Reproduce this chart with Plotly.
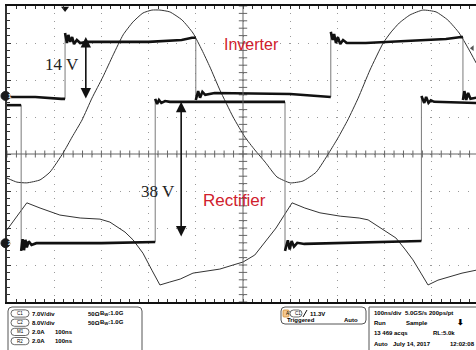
import plotly.graph_objects as go

# ---------------------------------------------------------------
# Waveform data: time in ns (100 ns/div), amplitude in screen divisions
# ---------------------------------------------------------------

# C1 - inverter output voltage (thick trace); repeated times are switching edges
INVERTER_V = [
    (0, 1.54), (60, 1.54), (115, 1.49), (123, 1.49),
    (123, 3.27), (127, 3.00), (130, 3.22), (134, 3.03), (138, 3.16), (142, 2.97),
    (148, 3.08), (155, 3.00), (170, 3.03), (300, 3.03), (370, 3.08), (392, 3.14), (400, 3.14),
    (400, 1.46), (405, 1.70), (409, 1.52), (414, 1.68), (420, 1.60), (440, 1.65),
    (600, 1.62), (650, 1.57), (686, 1.54),
    (686, 3.30), (690, 3.08), (693, 3.24), (697, 3.00), (701, 3.16), (706, 2.97),
    (712, 3.08), (720, 3.00), (760, 3.00), (850, 3.05), (930, 3.11), (962, 3.16), (966, 3.16),
    (966, 1.46), (969, 1.70), (973, 1.46), (977, 1.65), (982, 1.49), (994, 1.52),
]

# C2 - rectifier input voltage (thick trace)
RECTIFIER_V = [
    (0, 1.32), (30, 1.32),
    (30, -2.62), (33, -2.30), (36, -2.60), (39, -2.32), (42, -2.52), (46, -2.36),
    (52, -2.46), (62, -2.41), (200, -2.41), (314, -2.38),
    (314, 1.49), (318, 1.35), (322, 1.46), (327, 1.38), (335, 1.43), (345, 1.41), (589, 1.41),
    (589, -2.62), (595, -2.33), (599, -2.58), (603, -2.35), (608, -2.50), (615, -2.40),
    (630, -2.43), (876, -2.35), (878, -2.35),
    (878, 1.57), (884, 1.38), (888, 1.54), (893, 1.38), (898, 1.45), (905, 1.41), (994, 1.38),
]

# M1 - inverter current (thin trace)
INVERTER_I_T = [0, 21, 42, 70, 91, 119, 138, 159, 180, 203, 225, 246, 267, 288, 307, 324,
                345, 371, 394, 413, 430, 451, 479, 504, 525, 547, 572, 600, 627, 655, 682,
                701, 722, 744, 769, 797, 814, 831, 854, 881, 909, 934, 958, 977, 994]
INVERTER_I_Y = [-0.65, -0.76, -0.78, -0.70, -0.49, 0.03, 0.46, 0.92, 1.51, 2.08, 2.68, 3.22,
                3.57, 3.81, 3.89, 3.89, 3.84, 3.62, 3.27, 2.81, 2.35, 1.73, 1.00, 0.46, 0.11,
                -0.22, -0.62, -0.78, -0.73, -0.49, 0.03, 0.43, 0.92, 1.51, 2.27, 3.00, 3.30,
                3.54, 3.76, 3.89, 3.84, 3.62, 3.27, 2.86, 2.46]

# R2 - rectifier current (thin trace)
RECTIFIER_I_T = [0, 21, 42, 70, 112, 155, 197, 218, 233, 250, 267, 288, 307, 324, 345, 367,
                 394, 424, 451, 479, 500, 525, 551, 570, 585, 604, 631, 663, 706, 746, 765,
                 782, 803, 824, 843, 860, 877, 892, 913, 936, 964, 994]
RECTIFIER_I_Y = [-2.05, -1.70, -1.32, -1.46, -1.65, -1.73, -1.76, -1.84, -1.97, -2.11, -2.32,
                 -2.68, -3.14, -3.54, -3.46, -3.38, -3.22, -3.16, -3.11, -3.00, -2.92, -2.73,
                 -2.32, -2.00, -1.70, -1.32, -1.46, -1.59, -1.68, -1.73, -1.78, -1.92, -2.08,
                 -2.27, -2.57, -2.86, -3.22, -3.54, -3.41, -3.32, -3.22, -3.14]

# channel ground markers and trigger
CHANNEL_NAMES = ["1", "2"]
CHANNEL_OFFSETS = [1.57, -2.41]
TRIGGER_TIME = 123
TRIGGER_LEVEL = 2.86

# step annotations: (label, time of arrow, top level, bottom level)
INV_STEP = ("14 V", 167, 3.16, 1.46)
REC_STEP = ("38 V", 369, 1.41, -2.27)

# ---------------------------------------------------------------
# Screen geometry (pixels)
# ---------------------------------------------------------------
W, H = 476, 350
X0_PX, DIV_X_PX = 7, 47.2
TOP_PX, BOT_PX = 6, 302
T_END = (W - X0_PX) / DIV_X_PX * 100

TRACE_BLACK = "#111111"
THIN = "#333333"
EDGE = "#7a7a7a"
GRID = "#9a9a9a"
RED = "#d0202c"


def px(x, y):
    """pixel position -> paper coordinates"""
    return x / W, 1 - y / H


def split_edges(points):
    """Flat/ringing parts go to the thick trace, vertical switching edges to a thin one."""
    tx, ty, ex, ey = [], [], [], []
    for i, (t, v) in enumerate(points):
        if i > 0 and t == points[i - 1][0]:
            tx.append(None)
            ty.append(None)
            ex += [t, t, None]
            ey += [points[i - 1][1], v, None]
        tx.append(t)
        ty.append(v)
    return tx, ty, ex, ey


fig = go.Figure()

# centre graticule tick marks
cx = [t for t in range(0, 1000, 20)]
fig.add_trace(go.Scatter(x=cx, y=[0] * len(cx), mode="markers", hoverinfo="skip",
                         marker=dict(symbol="line-ns", size=5, line=dict(width=1, color="#666"))))
cy = [round(-4 + 0.2 * k, 2) for k in range(41)]
fig.add_trace(go.Scatter(x=[500] * len(cy), y=cy, mode="markers", hoverinfo="skip",
                         marker=dict(symbol="line-ew", size=6, line=dict(width=1, color="#666"))))

# currents
fig.add_trace(go.Scatter(x=INVERTER_I_T, y=INVERTER_I_Y, mode="lines",
                         line=dict(color=THIN, width=1, shape="spline", smoothing=0.5)))
fig.add_trace(go.Scatter(x=RECTIFIER_I_T, y=RECTIFIER_I_Y, mode="lines",
                         line=dict(color=THIN, width=1)))

# voltages
for pts in (INVERTER_V, RECTIFIER_V):
    tx, ty, ex, ey = split_edges(pts)
    fig.add_trace(go.Scatter(x=ex, y=ey, mode="lines", line=dict(color=EDGE, width=1)))
    fig.add_trace(go.Scatter(x=tx, y=ty, mode="lines", line=dict(color=TRACE_BLACK, width=2.6)))

# trigger position and level markers
fig.add_trace(go.Scatter(x=[TRIGGER_TIME], y=[3.93], mode="markers",
                         marker=dict(symbol="triangle-down", size=7, color="#111"),
                         cliponaxis=False))
fig.add_trace(go.Scatter(x=[986], y=[TRIGGER_LEVEL], mode="markers",
                         marker=dict(symbol="triangle-left", size=5, color="#555"),
                         cliponaxis=False))

# centre cross lines
shapes = [
    dict(type="line", xref="x", yref="y", x0=500, x1=500, y0=-4, y1=4,
         line=dict(color="#666", width=1)),
    dict(type="line", xref="x", yref="y", x0=0, x1=T_END, y0=0, y1=0,
         line=dict(color="#666", width=1)),
]

annotations = []

# channel ground markers just left of the graticule
for name, off in zip(CHANNEL_NAMES, CHANNEL_OFFSETS):
    shapes.append(dict(type="circle", xref="paper", yref="y", x0=1 / W, x1=10 / W,
                       y0=off - 0.12, y1=off + 0.12, fillcolor="#1a1a1a",
                       line=dict(color="#1a1a1a", width=1)))
    annotations.append(dict(x=5.5 / W, y=off, xref="paper", yref="y", text=f"<b>{name}</b>",
                            showarrow=False, font=dict(family="Liberation Sans", size=6, color="white")))

# step arrows and labels
for label, t, top, bot in (INV_STEP, REC_STEP):
    annotations.append(dict(x=t, y=top, ax=t, ay=bot, xref="x", yref="y", axref="x", ayref="y",
                            text="", showarrow=True, arrowhead=2, arrowside="end+start",
                            arrowsize=1.3, arrowwidth=1.6, arrowcolor="#111"))
annotations += [
    dict(x=116, y=2.41, text=INV_STEP[0], showarrow=False, xref="x", yref="y",
         font=dict(family="Liberation Serif", size=17, color="#222")),
    dict(x=319, y=-1.01, text=REC_STEP[0], showarrow=False, xref="x", yref="y",
         font=dict(family="Liberation Serif", size=17, color="#222")),
    dict(x=518, y=2.95, text="Inverter", showarrow=False, xref="x", yref="y",
         font=dict(family="Liberation Sans", size=16, color=RED)),
    dict(x=483, y=-1.27, text="Rectifier", showarrow=False, xref="x", yref="y",
         font=dict(family="Liberation Sans", size=17, color=RED)),
]


# ---------------- status panel below the graticule ----------------
def rrect(x0, y0, x1, y1, r, color="#555", width=1, fill=None):
    a0, b0 = px(x0, y0)
    a1, b1 = px(x1, y1)
    rx, ry = r / W, r / H
    path = (f"M{a0 + rx},{b0} L{a1 - rx},{b0} Q{a1},{b0} {a1},{b0 - ry} "
            f"L{a1},{b1 + ry} Q{a1},{b1} {a1 - rx},{b1} L{a0 + rx},{b1} "
            f"Q{a0},{b1} {a0},{b1 + ry} L{a0},{b0 - ry} Q{a0},{b0} {a0 + rx},{b0} Z")
    d = dict(type="path", xref="paper", yref="paper", path=path, line=dict(color=color, width=width))
    if fill:
        d["fillcolor"] = fill
    return d


def txt(x, y, s, size=6, color="#000", bold=True):
    a, b = px(x, y)
    return dict(x=a, y=b, xref="paper", yref="paper", text=f"<b>{s}</b>" if bold else s,
                showarrow=False, xanchor="left", yanchor="middle",
                font=dict(family="Liberation Sans", size=size, color=color))


shapes.append(rrect(8, 307, 142, 356, 4))
shapes.append(rrect(281, 307, 366, 324, 4))
a, b = px(369, 307)
a2, b2 = px(369, 350)
shapes.append(dict(type="line", xref="paper", yref="paper", x0=a, x1=a2, y0=b, y1=b2,
                   line=dict(color="#555", width=1)))
shapes.append(dict(type="line", xref="paper", yref="paper", x0=a, x1=1, y0=b, y1=b,
                   line=dict(color="#555", width=1)))

rows = [("C1", "7.0V/div", True), ("C2", "8.0V/div", True), ("M1", "2.0A", False), ("R2", "2.0A", False)]
for i, (tag, scale, term) in enumerate(rows):
    yc = 313.5 + 9.2 * i
    shapes.append(rrect(11, yc - 3.6, 29, yc + 3.6, 3.5, color="#444", width=0.8))
    annotations.append(txt(15, yc, tag, size=4.5, bold=False))
    annotations.append(txt(30, yc, scale))
    if term:
        annotations.append(txt(86, yc, "50Ω"))
        annotations.append(txt(98, yc, "B<sub>W</sub>:1.0G"))
    else:
        annotations.append(txt(53, yc, "100ns"))

# trigger box
shapes.append(rrect(283, 310, 289, 317, 1, color="#d08a30", width=0.8, fill="#f4c890"))
annotations.append(txt(283.5, 313.5, "A'", size=4.5, bold=False))
shapes.append(rrect(290, 310, 302, 317, 3.5, color="#444", width=0.8))
annotations.append(txt(292.5, 313.5, "C1", size=4.5, bold=False))
s0, t0 = px(303, 317)
s1, t1 = px(307, 310)
shapes.append(dict(type="line", xref="paper", yref="paper", x0=s0, y0=t0, x1=s1, y1=t1,
                   line=dict(color="#111", width=1)))
annotations += [txt(308, 313.5, "11.3V"), txt(285, 320, "Triggered"), txt(342, 320, "Auto")]

# acquisition box
annotations += [
    txt(372, 312.5, "100ns/div"), txt(403, 312.5, "5.0GS/s"), txt(427, 312.5, "200ps/pt"),
    txt(372, 322.5, "Run"), txt(404, 322.5, "Sample"), txt(455, 322.5, "⬇", size=8),
    txt(372, 333, "13 469 acqs"), txt(431, 333, "RL:5.0k"),
    txt(372, 343.5, "Auto"), txt(391, 343.5, "July 14, 2017"), txt(448, 343.5, "12:02:08"),
]

yb0 = (H - BOT_PX) / H
yb1 = (H - TOP_PX) / H

fig.update_layout(
    width=W, height=H, margin=dict(l=0, r=0, t=0, b=0),
    paper_bgcolor="white", plot_bgcolor="white", showlegend=False,
    shapes=shapes, annotations=annotations,
    xaxis=dict(domain=[X0_PX / W, 1], range=[0, T_END], showticklabels=False,
               showgrid=True, gridcolor=GRID, griddash="1px,6.4px", gridwidth=1,
               zeroline=False, showline=True, linecolor="#111", linewidth=1.5,
               mirror="allticks", ticks="inside", ticklen=3, tickcolor="#333", dtick=100, tick0=0,
               minor=dict(ticks="inside", ticklen=3, dtick=20, tickcolor="#333", showgrid=False)),
    yaxis=dict(domain=[yb0, yb1], range=[-4, 4], showticklabels=False,
               showgrid=True, gridcolor=GRID, griddash="1px,8.4px", gridwidth=1,
               zeroline=False, showline=True, linecolor="#333", linewidth=2.2,
               ticks="inside", ticklen=4, tickcolor="#333", dtick=1, tick0=0,
               minor=dict(ticks="inside", ticklen=3, dtick=0.2, tickcolor="#333", showgrid=False)),
)

fig.write_html("out.html")
